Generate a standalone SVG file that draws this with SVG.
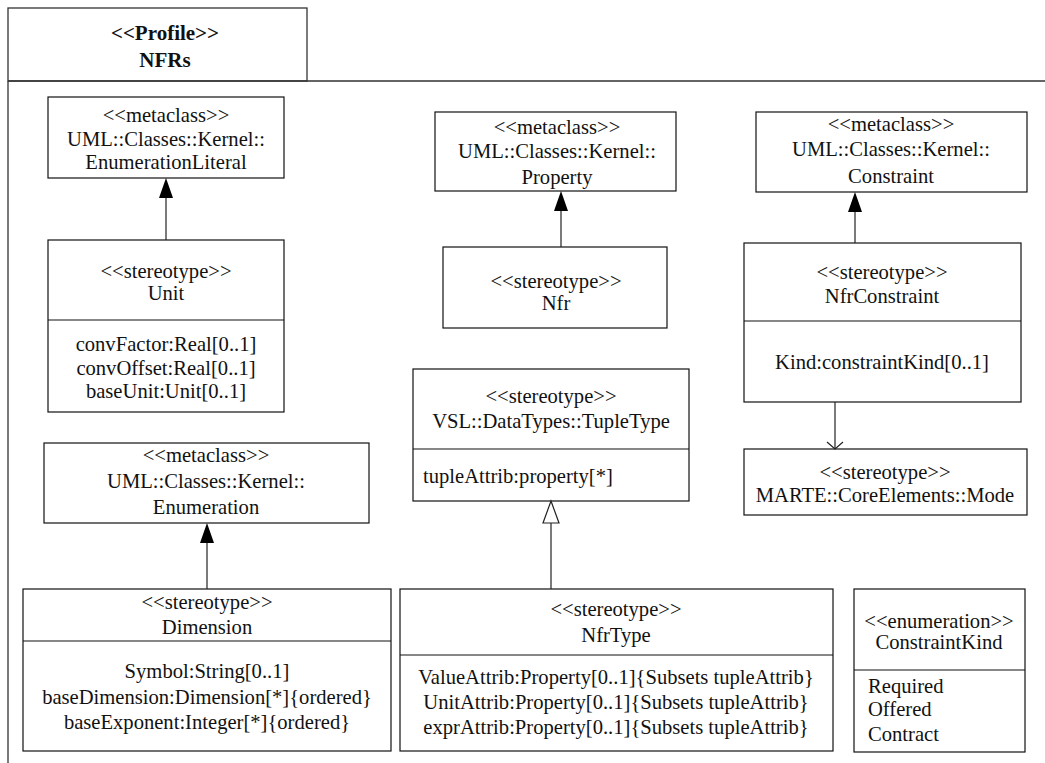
<svg xmlns="http://www.w3.org/2000/svg" width="1045" height="763" viewBox="0 0 1045 763">
  <style>
    .box { fill: #fff; stroke: #111; stroke-width: 1.2; }
    .sep { stroke: #111; stroke-width: 1.2; }
    .frame { fill: none; stroke: #333; stroke-width: 1.3; }
    .edge { stroke: #222; stroke-width: 1.2; fill: none; }
    text { font-family: "Liberation Serif", "Times New Roman", serif; font-size: 20.6px; fill: #111; }
    .c { text-anchor: middle; }
    .title { font-weight: bold; font-size: 21px; }
  </style>

  <rect fill="#fff" x="0" y="0" width="1045" height="763"/>

  <!-- profile package frame -->
  <g id="profile-NFRs">
    <rect class="frame" x="8" y="8" width="299" height="73"/>
    <path class="frame" d="M8 81 H1045 M8 81 V763"/>
    <text class="c title" x="165" y="40">&lt;&lt;Profile&gt;&gt;</text>
    <text class="c title" x="165" y="67">NFRs</text>
  </g>

  <g id="EnumerationLiteral">
    <rect class="box" x="48" y="97" width="236" height="81"/>
    <text class="c" x="166" y="122">&lt;&lt;metaclass&gt;&gt;</text>
    <text class="c" x="166" y="146">UML::Classes::Kernel::</text>
    <text class="c" x="166" y="169">EnumerationLiteral</text>
  </g>

  <g id="Unit">
    <rect class="box" x="48" y="240" width="236" height="172"/>
    <line class="sep" x1="48" y1="320" x2="284" y2="320"/>
    <text class="c" x="166" y="278">&lt;&lt;stereotype&gt;&gt;</text>
    <text class="c" x="166" y="300">Unit</text>
    <text class="c" x="166" y="351">convFactor:Real[0..1]</text>
    <text class="c" x="166" y="375">convOffset:Real[0..1]</text>
    <text class="c" x="166" y="398">baseUnit:Unit[0..1]</text>
  </g>

  <g id="Property">
    <rect class="box" x="435" y="112" width="241" height="79"/>
    <text class="c" x="557" y="134">&lt;&lt;metaclass&gt;&gt;</text>
    <text class="c" x="557" y="158">UML::Classes::Kernel::</text>
    <text class="c" x="557" y="184">Property</text>
  </g>

  <g id="Nfr">
    <rect class="box" x="443" y="247" width="224" height="81"/>
    <text class="c" x="556" y="288">&lt;&lt;stereotype&gt;&gt;</text>
    <text class="c" x="556" y="310">Nfr</text>
  </g>

  <g id="Constraint">
    <rect class="box" x="756" y="112" width="271" height="80"/>
    <text class="c" x="891" y="131">&lt;&lt;metaclass&gt;&gt;</text>
    <text class="c" x="891" y="156">UML::Classes::Kernel::</text>
    <text class="c" x="891" y="183">Constraint</text>
  </g>

  <g id="NfrConstraint">
    <rect class="box" x="744" y="243" width="277" height="159"/>
    <line class="sep" x1="744" y1="321" x2="1021" y2="321"/>
    <text class="c" x="882" y="279">&lt;&lt;stereotype&gt;&gt;</text>
    <text class="c" x="882" y="303">NfrConstraint</text>
    <text class="c" x="882" y="369">Kind:constraintKind[0..1]</text>
  </g>

  <g id="Mode">
    <rect class="box" x="744" y="449" width="283" height="66"/>
    <text class="c" x="885" y="479">&lt;&lt;stereotype&gt;&gt;</text>
    <text class="c" x="885" y="502">MARTE::CoreElements::Mode</text>
  </g>

  <g id="TupleType">
    <rect class="box" x="413" y="369" width="276" height="132"/>
    <line class="sep" x1="413" y1="449" x2="689" y2="449"/>
    <text class="c" x="551" y="403">&lt;&lt;stereotype&gt;&gt;</text>
    <text class="c" x="551" y="428">VSL::DataTypes::TupleType</text>
    <text x="423" y="483">tupleAttrib:property[*]</text>
  </g>

  <g id="NfrType">
    <rect class="box" x="400" y="589" width="433" height="162"/>
    <line class="sep" x1="400" y1="655" x2="833" y2="655"/>
    <text class="c" x="616" y="616">&lt;&lt;stereotype&gt;&gt;</text>
    <text class="c" x="616" y="642">NfrType</text>
    <text class="c" x="616" y="684">ValueAttrib:Property[0..1]{Subsets tupleAttrib}</text>
    <text class="c" x="616" y="709">UnitAttrib:Property[0..1]{Subsets tupleAttrib}</text>
    <text class="c" x="616" y="734">exprAttrib:Property[0..1]{Subsets tupleAttrib}</text>
  </g>

  <g id="Enumeration">
    <rect class="box" x="44" y="443" width="325" height="80"/>
    <text class="c" x="206" y="462">&lt;&lt;metaclass&gt;&gt;</text>
    <text class="c" x="206" y="488">UML::Classes::Kernel::</text>
    <text class="c" x="206" y="514">Enumeration</text>
  </g>

  <g id="Dimension">
    <rect class="box" x="23" y="589" width="368" height="162"/>
    <line class="sep" x1="23" y1="641" x2="391" y2="641"/>
    <text class="c" x="207" y="609">&lt;&lt;stereotype&gt;&gt;</text>
    <text class="c" x="207" y="634">Dimension</text>
    <text class="c" x="207" y="678">Symbol:String[0..1]</text>
    <text class="c" x="207" y="704">baseDimension:Dimension[*]{ordered}</text>
    <text class="c" x="207" y="729">baseExponent:Integer[*]{ordered}</text>
  </g>

  <g id="ConstraintKind">
    <rect class="box" x="854" y="589" width="171" height="163"/>
    <line class="sep" x1="854" y1="670" x2="1025" y2="670"/>
    <text class="c" x="939" y="628">&lt;&lt;enumeration&gt;&gt;</text>
    <text class="c" x="939" y="649">ConstraintKind</text>
    <text x="868" y="693">Required</text>
    <text x="868" y="716">Offered</text>
    <text x="868" y="741">Contract</text>
  </g>

  <!-- extensions (filled heads), generalization (hollow head) and dependency (open head) -->
  <g id="connectors">
    <line class="edge" x1="166" y1="240" x2="166" y2="198"/>
    <path d="M166 178 L173 198 L159 198 Z" fill="#000"/>

    <line class="edge" x1="561" y1="247" x2="561" y2="211"/>
    <path d="M561 191 L568 211 L554 211 Z" fill="#000"/>

    <line class="edge" x1="855" y1="243" x2="855" y2="212"/>
    <path d="M855 192 L862 212 L848 212 Z" fill="#000"/>

    <line class="edge" x1="207" y1="589" x2="207" y2="543"/>
    <path d="M207 523 L214 543 L200 543 Z" fill="#000"/>

    <line class="edge" x1="551" y1="589" x2="551" y2="523"/>
    <path d="M551 501 L559 523 L543 523 Z" fill="#fff" stroke="#222" stroke-width="1.2"/>

    <line class="edge" x1="835" y1="402" x2="835" y2="449"/>
    <path class="edge" d="M827 442 L835 449 L843 442"/>
  </g>
</svg>
